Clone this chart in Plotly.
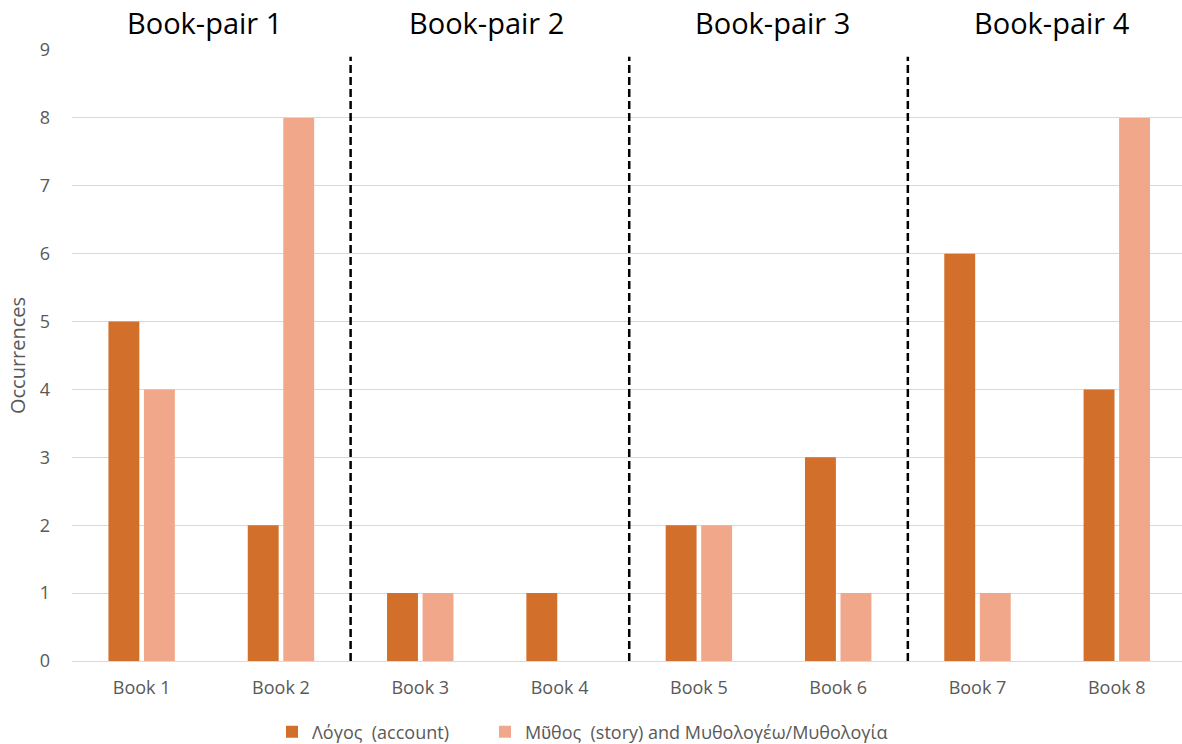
import plotly.graph_objects as go

books = ["Book 1", "Book 2", "Book 3", "Book 4", "Book 5", "Book 6", "Book 7", "Book 8"]
logos = [5, 2, 1, 1, 2, 3, 6, 4]
mythos = [4, 8, 1, 0, 2, 1, 1, 8]
pair_labels = ["Book-pair 1", "Book-pair 2", "Book-pair 3", "Book-pair 4"]
pair_shift = [-7, -3, 4, 5]
y_ticks = [0, 1, 2, 3, 4, 5, 6, 7, 8, 9]

dark = "#D26F2A"
light = "#F1A88A"
font_family = "'Open Sans', sans-serif"
grey = "#595959"

fig = go.Figure()
fig.add_trace(go.Bar(x=books, y=logos, name="Λόγος\u00a0 (account)", marker_color=dark,
                     marker_line_width=0, legend="legend"))
fig.add_trace(go.Bar(x=books, y=mythos, name="Μῦθος\u00a0 (story) and Μυθολογέω/Μυθολογία",
                     marker_color=light, marker_line_width=0, legend="legend2"))

# dashed separators between book pairs
for k in range(1, 4):
    xb = 2 * k - 0.5
    fig.add_shape(type="line", xref="x", yref="y", x0=xb, x1=xb, y0=0, y1=8.9,
                  line=dict(color="black", width=2.5, dash="8px,4px"))

# pair headings above the plot
for k, lab in enumerate(pair_labels):
    fig.add_annotation(x=2 * k + 0.5, y=1, xref="x", yref="paper", yanchor="bottom",
                       xshift=pair_shift[k], yshift=6, text=lab, showarrow=False,
                       font=dict(size=29, color="black", family=font_family))

legend_style = dict(orientation="h", xref="container", yref="container", xanchor="left",
                    yanchor="middle", y=12 / 744, font=dict(size=18, color=grey),
                    itemwidth=30, bgcolor="rgba(0,0,0,0)")

fig.update_layout(
    width=1182, height=744,
    margin=dict(l=72, r=0, t=50, b=83, autoexpand=False),
    paper_bgcolor="white", plot_bgcolor="white",
    barmode="group", bargap=0.49, bargroupgap=0.13,
    font=dict(family=font_family, color=grey, size=18),
    showlegend=True,
    legend=dict(legend_style, x=272 / 1182),
    legend2=dict(legend_style, x=485 / 1182),
    xaxis=dict(range=[-0.5, 7.468], showgrid=False, showline=False, zeroline=False,
               ticks="", tickfont=dict(size=18, color=grey), ticklabelstandoff=14),
    yaxis=dict(range=[0, 9], tickvals=y_ticks, showgrid=True, gridcolor="#D9D9D9",
               gridwidth=1.3, zeroline=True, zerolinecolor="#D9D9D9", zerolinewidth=1.3,
               showline=False, ticks="", tickfont=dict(size=18, color=grey),
               ticklabelstandoff=21,
               title=dict(text="Occurrences", font=dict(size=20, color=grey), standoff=8)),
)

fig.write_html("out.html")
